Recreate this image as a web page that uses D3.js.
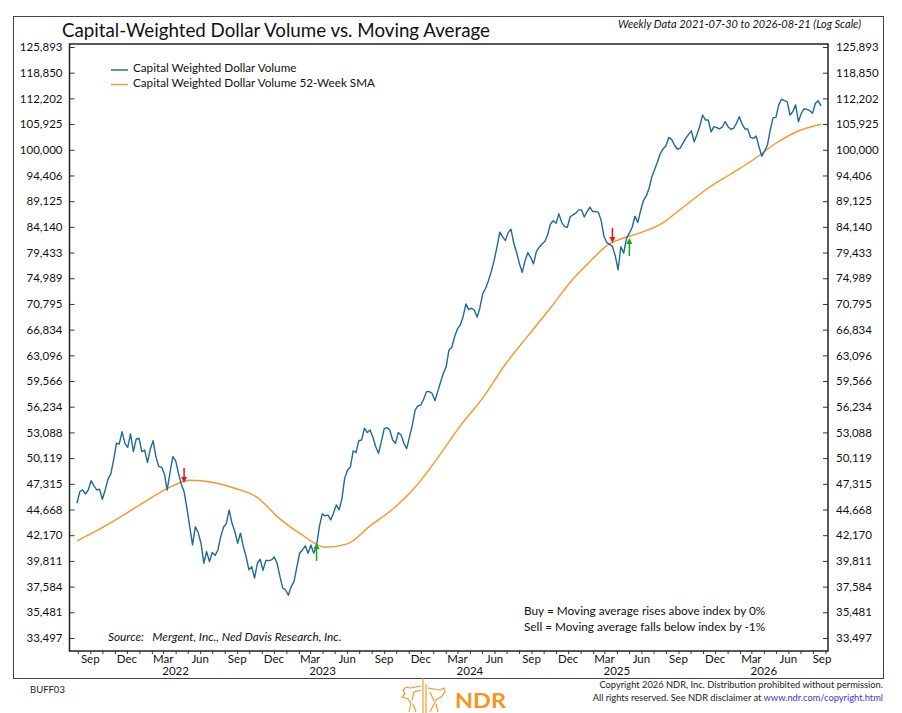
<!DOCTYPE html>
<html>
<head>
<meta charset="utf-8">
<script src="https://cdn.jsdelivr.net/npm/d3@7"></script>
<style>
body { margin: 0; background: #fff; }
text { font-family: Lato, "Open Sans", sans-serif; }
</style>
</head>
<body>
<svg width="902" height="713"></svg>
<script>
// weekly data, first week 2021-07-30
var startDate = new Date(2021, 6, 30);

var cwdv = [
45300,46490,46670,46250,46670,47650,47090,46670,46740,45700,
46670,47810,48375,49920,51810,51730,53180,51810,51350,52910,
50850,52280,52400,50850,51040,49620,51120,52120,50290,49190,
49120,48375,46670,48520,50290,49840,48450,47300,46490,44800,
42980,41260,42980,42420,41420,39600,40650,39750,40560,40290,
40800,42040,42930,43310,44630,43310,42520,41420,42360,41120,
40200,39030,39300,38310,39600,39960,38970,39840,39840,39900,
40150,39600,38450,37450,37300,36870,37584,38010,39250,40500,
40800,41180,40500,41260,40500,41180,42980,44230,44030,44130,
43640,44300,45130,44630,45750,47950,48800,49120,50950,50730,
52120,52200,53590,53070,53380,52520,51420,50670,52000,53540,
53660,53380,52200,51810,53070,52790,51810,51200,52590,54000,
55830,56330,56460,57180,58170,58170,57960,57000,58170,59400,
60610,61520,63860,64250,65800,66940,67540,68800,70800,69900,
70120,69800,68700,70280,72500,73330,74590,76130,78010,80380,
83130,82330,81600,83060,83690,81100,79430,77450,75970,78010,
79430,78550,77450,79600,80380,80980,81410,82640,84690,85320,
84820,86630,84950,84190,84060,86060,86440,86760,87410,87410,
86010,87080,87940,87080,87080,86960,85320,82330,81230,80920,
80490,78830,76430,80490,79310,82030,82960,84070,86170,84950,
87280,89230,90170,91740,94160,95720,97370,99220,100250,100920,
102810,102350,101080,100180,100340,101460,102580,103500,104340,101810,
103500,105480,108100,106900,106900,104110,105310,105080,104780,105240,
106500,105310,104700,104940,106110,107700,105930,104780,104780,102810,
102580,103110,100690,98570,99700,101080,104550,107460,107540,110580,
112000,111660,111410,108100,108900,110580,106500,108500,109630,109480,
109140,108500,111000,111580,110330
];

// 52-week SMA read at these week offsets
var smaWeeks = [0,8,16,24,32,40,48,56,64,72,80,88,96,104,112,120,128,136,144,152,
  160,168,176,180,184,188,192,196,200,208,212,216,224,232,240,248,256,264];
var smaValues = [41640,42740,44030,45440,46810,47700,47480,46850,45880,43740,
  42170,41050,41360,43060,44700,46950,50140,53870,57350,61850,
  65900,70160,74870,76860,78830,80670,81700,82390,83050,84930,
  86600,88310,91800,94720,97800,101470,104300,105880];

var yTicks = [33497,35481,37584,39811,42170,44668,47315,50119,53088,56234,59566,63096,
  66834,70795,74989,79433,84140,89125,94406,100000,105925,112202,118850,125893];
var monthLabels = ["Sep","Dec","Mar","Jun"];
var yearLabels = [2022,2023,2024,2025,2026];

var signalWeeks = [38,85,190,196];
var signalTypes = ["sell","buy","sell","buy"];
var signalLevels = [47400,41450,81160,82070];

var blue = "#1f6a99", orange = "#f8962b";

var svg = d3.select("svg");

// outer frame
svg.append("rect").attr("x", 13.5).attr("y", 16.5).attr("width", 870).attr("height", 662)
  .attr("fill", "none").attr("stroke", "#444").attr("stroke-width", 1);

var plotLeft = 69.5, plotTop = 44, width = 758.5, height = 607;
var g = svg.append("g").attr("transform", "translate(" + plotLeft + "," + plotTop + ")");

function weekDate(i) { return d3.timeDay.offset(startDate, 7 * i); }

var x = d3.scaleTime()
  .domain([weekDate(0), weekDate(cwdv.length - 1)])
  .range([7.5, 751.5]);
var y = d3.scaleLog().domain([32534, 126740]).range([height, 0]);

var fmt = d3.format(",");

// y axes, ticks pointing in
g.append("g").call(d3.axisLeft(y).tickValues(yTicks).tickFormat(fmt).tickSizeInner(-5).tickSizeOuter(0).tickPadding(7))
  .call(function(a) { a.select(".domain").remove(); });
g.append("g").attr("transform", "translate(" + width + ",0)")
  .call(d3.axisRight(y).tickValues(yTicks).tickFormat(fmt).tickSizeInner(-5).tickSizeOuter(0).tickPadding(8))
  .call(function(a) { a.select(".domain").remove(); });
g.selectAll(".tick text").attr("font-size", 11.5).attr("fill", "#111")
  .attr("font-family", "Lato, 'Open Sans', sans-serif");
g.selectAll(".tick line").attr("stroke", "#333");

// x axis: month ticks, quarterly labels, year labels
var months = d3.timeMonth.range(x.invert(0), x.invert(width));
g.append("g").attr("transform", "translate(0," + height + ")")
  .call(d3.axisBottom(x).tickValues(months).tickFormat("").tickSizeInner(3).tickSizeOuter(0))
  .call(function(a) { a.select(".domain").remove(); a.selectAll("line").attr("stroke", "#333"); });

var labelled = d3.timeMonth.range(x.invert(0), x.invert(width + 5))
  .filter(function(d) { return monthLabels.indexOf(d3.timeFormat("%b")(d)) >= 0; });
g.selectAll(".mlab").data(labelled).enter().append("text")
  .attr("x", function(d) { return Math.min(x(d), width - 6); })
  .attr("y", height + 12)
  .attr("text-anchor", "middle").attr("font-size", 11.5).attr("fill", "#111")
  .text(function(d) { return d3.timeFormat("%b")(d); });
g.selectAll(".ylab").data(yearLabels).enter().append("text")
  .attr("x", function(d) { return x(new Date(d, 3, 1)); })
  .attr("y", height + 23.5)
  .attr("text-anchor", "middle").attr("font-size", 11.5).attr("fill", "#111")
  .text(function(d) { return d; });

// plot box
g.append("rect").attr("width", width).attr("height", height)
  .attr("fill", "none").attr("stroke", "#222").attr("stroke-width", 1.5);

// series
var smaLine = d3.line()
  .x(function(d, i) { return x(weekDate(smaWeeks[i])); })
  .y(function(d) { return y(d); })
  .curve(d3.curveMonotoneX);
g.append("path").datum(smaValues).attr("d", smaLine)
  .attr("fill", "none").attr("stroke", orange).attr("stroke-width", 1.4);

var line = d3.line()
  .x(function(d, i) { return x(weekDate(i)); })
  .y(function(d) { return y(d); });
g.append("path").datum(cwdv).attr("d", line)
  .attr("fill", "none").attr("stroke", blue).attr("stroke-width", 1.4)
  .attr("stroke-linejoin", "round");

// buy / sell arrows
signalWeeks.forEach(function(w, k) {
  var sx = x(weekDate(w)), sy = y(signalLevels[k]);
  var sell = signalTypes[k] == "sell";
  var col = sell ? "#e3161e" : "#18a318";
  var dir = sell ? -1 : 1;
  var len = sell ? 15 : 18;
  g.append("line").attr("x1", sx).attr("x2", sx)
    .attr("y1", sy + dir * len).attr("y2", sy + dir * 4)
    .attr("stroke", col).attr("stroke-width", 1.5);
  g.append("path")
    .attr("d", "M" + sx + "," + sy + "L" + (sx - 3) + "," + (sy + dir * 6) + "L" + (sx + 3) + "," + (sy + dir * 6) + "Z")
    .attr("fill", col);
});

// legend
var legend = [["Capital Weighted Dollar Volume", blue], ["Capital Weighted Dollar Volume 52-Week SMA", orange]];
legend.forEach(function(l, k) {
  svg.append("line").attr("x1", 111).attr("x2", 128).attr("y1", 70 + 14.5 * k).attr("y2", 70 + 14.5 * k)
    .attr("stroke", l[1]).attr("stroke-width", 1.4);
  svg.append("text").attr("x", 133).attr("y", 72 + 14.5 * k).attr("font-size", 11.7).attr("fill", "#111").text(l[0]);
});

// titles and notes
svg.append("text").attr("x", 62).attr("y", 37).attr("font-size", 19.5).attr("fill", "#111")
  .attr("textLength", 428).attr("lengthAdjust", "spacingAndGlyphs")
  .text("Capital-Weighted Dollar Volume vs. Moving Average");
svg.append("text").attr("x", 861).attr("y", 27.5).attr("text-anchor", "end").attr("font-size", 11)
  .attr("font-style", "italic").attr("fill", "#111")
  .text("Weekly Data 2021-07-30 to 2026-08-21 (Log Scale)");
svg.append("text").attr("x", 108).attr("y", 640.5).attr("font-size", 11.8).attr("font-style", "italic")
  .attr("fill", "#111").attr("xml:space", "preserve")
  .text("Source:   Mergent, Inc., Ned Davis Research, Inc.");
svg.append("text").attr("x", 524).attr("y", 615).attr("font-size", 11.8).attr("fill", "#111")
  .text("Buy = Moving average rises above index by 0%");
svg.append("text").attr("x", 524).attr("y", 630.5).attr("font-size", 11.8).attr("fill", "#111")
  .text("Sell = Moving average falls below index by -1%");

// footer
svg.append("text").attr("x", 30).attr("y", 692.5).attr("font-size", 9.5).attr("fill", "#222").text("BUFF03");
svg.append("text").attr("x", 883).attr("y", 688).attr("text-anchor", "end").attr("font-size", 9.3).attr("fill", "#222")
  .text("Copyright 2026 NDR, Inc. Distribution prohibited without permission.");
var cr = svg.append("text").attr("x", 883).attr("y", 701).attr("text-anchor", "end").attr("font-size", 9.3).attr("fill", "#222");
cr.append("tspan").text("All rights reserved. See NDR disclaimer at ");
cr.append("tspan").attr("fill", "#3a3ad0").text("www.ndr.com/copyright.html");

// NDR logo
var logo = svg.append("g").attr("fill", "none").attr("stroke", "#f7941d").attr("stroke-width", 1.1);
logo.append("path").attr("d", "M423,678V713M426,684V713");
logo.append("path").attr("d", "M421,686L410,688L406,687L403,690L405,694L402,697L408,699L411,703L409,712M413,704L416,712M421,690L414,692L412,700");
logo.append("path").attr("d", "M428,688L440,690L444,688L445,692L441,697L436,700L433,706L430,712M436,704L438,712M430,692L434,701");
svg.append("text").attr("x", 455).attr("y", 708).attr("font-size", 20).attr("font-weight", "bold")
  .attr("fill", "#f7941d").attr("textLength", 51).attr("lengthAdjust", "spacingAndGlyphs").text("NDR");
</script>
</body>
</html>
